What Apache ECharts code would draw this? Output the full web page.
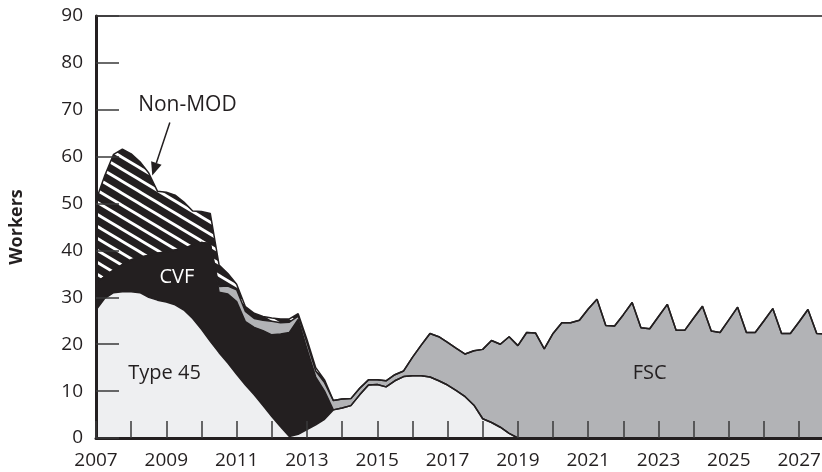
<!DOCTYPE html>
<html>
<head>
<meta charset="utf-8">
<script src="https://cdn.jsdelivr.net/npm/echarts@6/dist/echarts.min.js"></script>
<style>
  html, body { margin: 0; padding: 0; background: #fff; }
  #chart { width: 822px; height: 472px; }
</style>
</head>
<body>
<div id="chart"></div>
<script>
// quarterly points
const years = [
  2007.00, 2007.25, 2007.50, 2007.75, 2008.00, 2008.25, 2008.50, 2008.75,
  2009.00, 2009.25, 2009.50, 2009.75, 2010.00, 2010.25, 2010.50, 2010.75,
  2011.00, 2011.25, 2011.50, 2011.75, 2012.00, 2012.25, 2012.50, 2012.75,
  2013.00, 2013.25, 2013.50, 2013.75, 2014.00, 2014.25, 2014.50, 2014.75,
  2015.00, 2015.25, 2015.50, 2015.75, 2016.00, 2016.25, 2016.50, 2016.75,
  2017.00, 2017.25, 2017.50, 2017.75, 2018.00, 2018.25, 2018.50, 2018.75,
  2019.00, 2019.25, 2019.50, 2019.75, 2020.00, 2020.25, 2020.50, 2020.75,
  2021.00, 2021.25, 2021.50, 2021.75, 2022.00, 2022.25, 2022.50, 2022.75,
  2023.00, 2023.25, 2023.50, 2023.75, 2024.00, 2024.25, 2024.50, 2024.75,
  2025.00, 2025.25, 2025.50, 2025.75, 2026.00, 2026.25, 2026.50, 2026.75,
  2027.00, 2027.25, 2027.50, 2027.75
]

const type45 = [
  27.3, 29.8, 31.0, 31.2, 31.2, 31.0, 30.0, 29.4,
  29.0, 28.4, 27.3, 25.5, 23.2, 20.6, 18.2, 16.0,
  13.6, 11.3, 9.2, 6.9, 4.6, 2.4, 0.3, 0.8,
  1.8, 2.8, 4.0, 6.0, 6.4, 6.9, 9.2, 11.3,
  11.4, 10.9, 12.2, 13.1, 13.3, 13.3, 13.0, 12.2,
  11.3, 10.1, 8.8, 7.0, 4.1, 3.3, 2.3, 1.0,
  0, 0, 0, 0, 0, 0, 0, 0,
  0, 0, 0, 0, 0, 0, 0, 0,
  0, 0, 0, 0, 0, 0, 0, 0,
  0, 0, 0, 0, 0, 0, 0, 0,
  0, 0, 0, 0
]

const cvf = [
  5.7, 4.7, 4.8, 5.8, 6.8, 7.5, 9.0, 10.0,
  10.7, 11.7, 13.2, 15.6, 18.5, 20.9, 12.9, 14.7,
  15.5, 13.5, 14.4, 16.0, 17.4, 19.8, 22.2, 24.5,
  17.2, 10.2, 6.0, 0, 0, 0, 0, 0,
  0, 0, 0, 0, 0, 0, 0, 0,
  0, 0, 0, 0, 0, 0, 0, 0,
  0, 0, 0, 0, 0, 0, 0, 0,
  0, 0, 0, 0, 0, 0, 0, 0,
  0, 0, 0, 0, 0, 0, 0, 0,
  0, 0, 0, 0, 0, 0, 0, 0,
  0, 0, 0, 0
]

const fsc = [
  0, 0, 0, 0, 0, 0, 0, 0,
  0, 0, 0, 0, 0, 0, 1.2, 1.7,
  2.5, 2.2, 1.9, 2.2, 2.9, 2.4, 2.2, 0.7,
  1.3, 1.3, 1.8, 2.0, 1.9, 1.5, 1.4, 1.1,
  1.0, 1.3, 1.3, 1.2, 3.9, 6.5, 9.3, 9.4,
  9.1, 9.0, 9.1, 11.6, 14.8, 17.5, 17.7, 20.6,
  19.7, 22.5, 22.4, 19.0, 22.3, 24.6, 24.6, 25.1,
  27.5, 29.6, 24.0, 23.9, 26.3, 28.9, 23.5, 23.3,
  25.9, 28.5, 23.0, 23.0, 25.6, 28.1, 22.8, 22.5,
  25.2, 27.9, 22.5, 22.5, 25.0, 27.6, 22.3, 22.3,
  24.8, 27.4, 22.3, 22.2
]

const nonMod = [
  17.7, 21.5, 24.7, 24.6, 22.6, 20.4, 17.5, 13.2,
  12.7, 11.7, 9.8, 7.3, 6.6, 6.4, 4.6, 2.7,
  1.2, 1.0, 1.1, 0.8, 0.7, 0.8, 0.7, 0.5,
  0.7, 0.7, 0.6, 0, 0, 0, 0, 0,
  0, 0, 0, 0, 0, 0, 0, 0,
  0, 0, 0, 0, 0, 0, 0, 0,
  0, 0, 0, 0, 0, 0, 0, 0,
  0, 0, 0, 0, 0, 0, 0, 0,
  0, 0, 0, 0, 0, 0, 0, 0,
  0, 0, 0, 0, 0, 0, 0, 0,
  0, 0, 0, 0
]

const xLabels = [2007, 2009, 2011, 2013, 2015, 2017, 2019, 2021, 2023, 2025, 2027]

const ink = '#231f20'
const font = '"Open Sans", "Noto Sans", sans-serif'

// black with white diagonal stripes for Non-MOD
const makeHatch = () => {
  const w = 20, h = 12
  const c = document.createElement('canvas')
  c.width = w
  c.height = h
  const g = c.getContext('2d')
  g.fillStyle = ink
  g.fillRect(0, 0, w, h)
  g.strokeStyle = '#ffffff'
  g.lineWidth = 2.8
  ;[-h, 0, h].forEach(off => {
    g.beginPath()
    g.moveTo(-w, -h + off)
    g.lineTo(2 * w, 2 * h + off)
    g.stroke()
  })
  return c
}

// running totals, bottom layer first; the layers are painted top-down so each covers the one above
const layers = [type45, cvf, fsc, nonMod]
const running = layers.map((_, k) => years.map((y, i) => {
  let s = 0
  for (let j = 0; j <= k; j++) s += layers[j][i]
  return [y, Math.round(s * 100) / 100]
}))

const area = (name, data, fill) => ({
  name,
  type: 'line',
  symbol: 'none',
  data,
  lineStyle: { color: ink, width: 1.5 },
  areaStyle: { color: fill, opacity: 1, origin: 0 }
})

const chart = echarts.init(document.getElementById('chart'))

chart.setOption({
  animation: false,
  backgroundColor: '#ffffff',
  grid: { left: 96, right: 0, top: 16, bottom: 34, outerBoundsMode: 'none' },
  xAxis: [{
    type: 'value',
    min: 2007,
    max: 2027.65,
    interval: 1,
    zlevel: 1,
    axisLine: { lineStyle: { color: ink, width: 3 } },
    axisTick: { inside: true, length: 17, lineStyle: { color: '#3a3a3a', width: 1.5 } },
    axisLabel: {
      color: ink,
      fontFamily: font,
      fontSize: 19,
      margin: 13,
      showMaxLabel: false,
      formatter: v => xLabels.includes(v) ? String(v) : ''
    },
    splitLine: { show: false }
  }, {
    type: 'value',
    position: 'top',
    min: 2007,
    max: 2027.65,
    zlevel: 1,
    axisLine: { show: true, lineStyle: { color: ink, width: 1.5 } },
    axisTick: { show: false },
    axisLabel: { show: false },
    splitLine: { show: false }
  }],
  yAxis: {
    type: 'value',
    min: 0,
    max: 90,
    interval: 10,
    zlevel: 1,
    name: 'Workers',
    nameLocation: 'middle',
    nameGap: 70,
    nameTextStyle: { color: ink, fontFamily: font, fontSize: 18, fontWeight: 'bold' },
    axisLine: { show: true, lineStyle: { color: ink, width: 3 } },
    axisTick: { inside: true, length: 23, lineStyle: { color: '#3a3a3a', width: 1.5 } },
    axisLabel: { color: ink, fontFamily: font, fontSize: 19, margin: 13 },
    splitLine: { show: false }
  },
  series: [
    area('Non-MOD', running[3], { image: makeHatch(), repeat: 'repeat' }),
    area('FSC', running[2], '#b2b3b6'),
    area('CVF', running[1], ink),
    area('Type 45', running[0], '#eeeff1')
  ]
})

// annotations placed in data coordinates
const px = p => chart.convertToPixel({ xAxisIndex: 0, yAxisIndex: 0 }, p)
const label = (text, at, color, size) => {
  const [x, y] = px(at)
  return {
    type: 'text', x, y, z: 20,
    style: { text, fill: color, font: size + 'px ' + font, textAlign: 'center', textVerticalAlign: 'middle' }
  }
}

const a0 = px([2009.1, 67.3])
const a1 = px([2008.6, 56.0])
const ang = Math.atan2(a1[1] - a0[1], a1[0] - a0[0])
const headLen = 13, headW = 5.5
const base = [a1[0] - headLen * Math.cos(ang), a1[1] - headLen * Math.sin(ang)]
const head = [
  a1,
  [base[0] + headW * Math.sin(ang), base[1] - headW * Math.cos(ang)],
  [base[0] - headW * Math.sin(ang), base[1] + headW * Math.cos(ang)]
]

chart.setOption({
  graphic: [
    label('Non-MOD', [2009.6, 71.0], ink, 21),
    label('CVF', [2009.3, 34.2], '#ffffff', 20),
    label('Type 45', [2008.95, 13.8], ink, 20),
    label('FSC', [2022.75, 13.8], ink, 20),
    {
      type: 'line', z: 20,
      shape: { x1: a0[0], y1: a0[1], x2: base[0], y2: base[1] },
      style: { stroke: ink, lineWidth: 1.5 }
    },
    {
      type: 'polygon', z: 20,
      shape: { points: head },
      style: { fill: ink }
    }
  ]
})
</script>
</body>
</html>
